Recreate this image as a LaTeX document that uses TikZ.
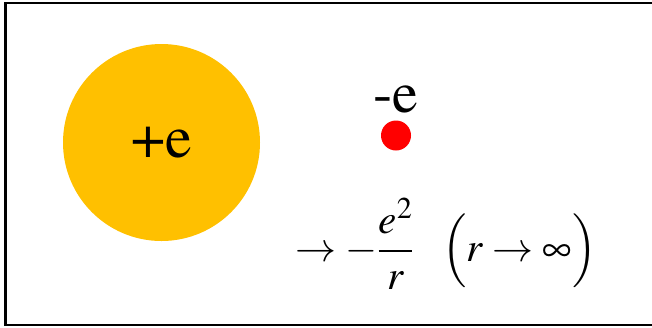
\documentclass[tikz,border=0pt]{standalone}
\usepackage{mathptmx}
\definecolor{nucleus}{HTML}{FFC000}
\definecolor{electron}{HTML}{FF0000}
\usepackage{tikz}
\usetikzlibrary{positioning}
\newcommand{\timesat}[1]{\fontsize{#1}{#1}\usefont{OT1}{ptm}{m}{n}}

\begin{document}
\begin{tikzpicture}[
  x=1pt, y=-1pt,
  proton/.style={circle, fill=nucleus, minimum size=197pt,
    inner sep=0pt, font=\timesat{60}},
  dot/.style={circle, fill=electron, minimum size=30pt, inner sep=0pt},
  lbl/.style={font=\timesat{58}, inner sep=0pt},
  formula/.style={font=\fontsize{41}{49}\selectfont, inner sep=0pt}
]
  \useasboundingbox (0,0) rectangle (652,327);
  \draw[line width=2.4pt] (652,3) -- (5.5,3) -- (5.5,325) -- (652,325);

  \node[proton] (core) at (161.5,142.5) {+e};
  \node[dot] (el) at (396,135.5) {};
  \node[lbl, above=7pt of el] (elab) {-e};
  \node[formula] (limit) at (446,244)
    {$\displaystyle\rightarrow -\frac{e^{2}}{r}\hspace{0.7em}\Bigl(r\rightarrow\infty\Bigr)$};
\end{tikzpicture}
\end{document}
